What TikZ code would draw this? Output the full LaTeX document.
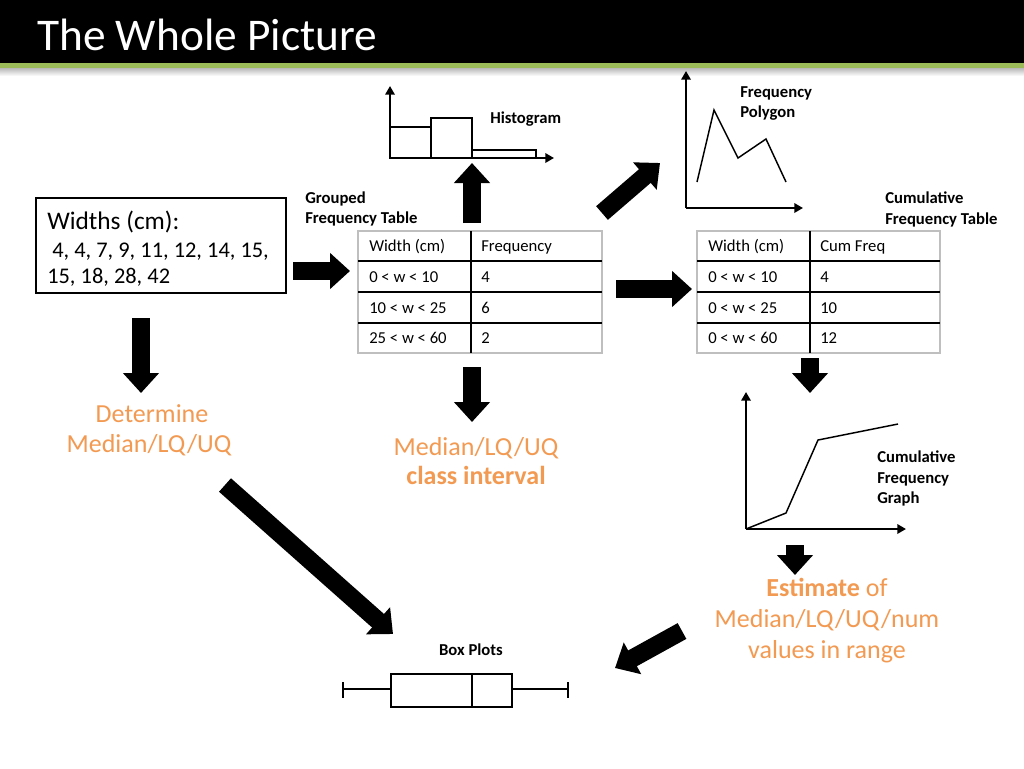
\documentclass[tikz,border=0pt]{standalone}
\usepackage{fontspec}
\setmainfont{Carlito}
\usetikzlibrary{arrows.meta}
\definecolor{accent}{HTML}{9BBB59}
\definecolor{orangetxt}{HTML}{F39A52}
\definecolor{tblgray}{HTML}{BFBFBF}
\tikzset{
  blockarrow/.style={line width=13.5pt, -{Triangle[length=15pt,width=26.25pt]}},
  axisline/.style={line width=2.1pt, -{Triangle[length=6.5pt,width=7pt]}},
  barline/.style={line width=2pt},
  thinline/.style={line width=1.1pt, line join=miter},
  boxline/.style={line width=1.9pt},
  lbl/.style={font=\bfseries\fontsize{12.5}{15}\selectfont, anchor=base west, inner sep=0pt},
  tbl/.style={font=\fontsize{12.5}{15}\selectfont, anchor=base west, inner sep=0pt},
  orng/.style={font=\fontsize{19.5}{23}\selectfont, text=orangetxt, anchor=base, inner sep=0pt},
  tblframe/.style={draw=tblgray, line width=0.9pt, inner sep=0pt},
  tblrule/.style={line width=1.2pt},
}
\begin{document}
\begin{tikzpicture}[x=0.75pt,y=-0.75pt]
\useasboundingbox (0,0) rectangle (1024,768);
\fill[white] (0,0) rectangle (1024,768);
% title bar
\fill[black] (0,0) rectangle (1024,64);
\shade[top color=gray!55, bottom color=white] (0,68) rectangle (1024,76);
\fill[accent] (0,63) rectangle (1024,68);
\node[anchor=base west, text=white, font=\fontsize{34}{40}\selectfont, inner sep=0pt] (title) at (37,50) {The Whole Picture};

% widths box
\node[draw, line width=2pt, minimum width=187.5pt, minimum height=71.25pt, inner sep=0pt] (wbox) at (161,245.5) {};
\node[anchor=base west, inner sep=0pt, font=\fontsize{19}{23}\selectfont] (wt) at (47,229) {Widths (cm):};
\node[anchor=base west, inner sep=0pt, font=\fontsize{16.8}{20}\selectfont] (w1) at (47,257) {\ 4, 4, 7, 9, 11, 12, 14, 15,};
\node[anchor=base west, inner sep=0pt, font=\fontsize{16.8}{20}\selectfont] (w2) at (47,283) {15, 18, 28, 42};

% grouped frequency table
\node[lbl] (gftl1) at (305,203) {Grouped};
\node[lbl] (gftl2) at (305,223) {Frequency Table};
\node[tblframe, minimum width=183pt, minimum height=91.5pt] (gft) at (480,292) {};
\foreach \y in {261,292,323} \draw[tblrule] (358,\y) -- (602,\y);
\draw[tblrule] (471,231) -- (471,353);
\node[tbl] at (369,251.5) {Width (cm)};
\node[tbl] at (481,251.5) {Frequency};
\node[tbl] at (369,282) {0 < w < 10};
\node[tbl] at (481,282) {4};
\node[tbl] at (369,313) {10 < w < 25};
\node[tbl] at (481,313) {6};
\node[tbl] at (369,343.5) {25 < w < 60};
\node[tbl] at (481,343.5) {2};

% cumulative frequency table
\node[lbl] (cftl1) at (885,203) {Cumulative};
\node[lbl] (cftl2) at (885,224) {Frequency Table};
\node[tblframe, minimum width=182.25pt, minimum height=91.5pt] (cft) at (818.5,292) {};
\foreach \y in {261,292,323} \draw[tblrule] (697,\y) -- (940,\y);
\draw[tblrule] (810,231) -- (810,353);
\node[tbl] at (708,251.5) {Width (cm)};
\node[tbl] at (820,251.5) {Cum Freq};
\node[tbl] at (708,282) {0 < w < 10};
\node[tbl] at (820,282) {4};
\node[tbl] at (708,313) {0 < w < 25};
\node[tbl] at (820,313) {10};
\node[tbl] at (708,343.5) {0 < w < 60};
\node[tbl] at (820,343.5) {12};

% histogram
\coordinate (hO) at (390,158);
\draw[axisline] (hO) -- (390,86);
\draw[axisline] (hO) -- (554,158);
\draw[barline] (390,158) rectangle (431,127);
\draw[barline] (431,158) rectangle (472,118);
\draw[barline] (472,158) rectangle (536,150);
\node[lbl] (hist) at (490,123) {Histogram};

% frequency polygon
\coordinate (pO) at (686,208);
\draw[axisline] (pO) -- (686,71);
\draw[axisline] (pO) -- (803,208);
\draw[thinline] (697,182) -- (714,110) -- (738,158) -- (766,139) -- (786,182);
\node[lbl] (fp1) at (740,97) {Frequency};
\node[lbl] (fp2) at (740,117) {Polygon};

% cumulative frequency graph
\coordinate (cO) at (746,529);
\draw[axisline] (cO) -- (746,392);
\draw[axisline] (cO) -- (906,529);
\draw[thinline] (746,529) -- (786,513) -- (818,440) -- (898,424);
\node[lbl] (cg1) at (877,462) {Cumulative};
\node[lbl] (cg2) at (877,483) {Frequency};
\node[lbl] (cg3) at (877,503) {Graph};

% orange texts
\node[orng] (det1) at (152,422) {Determine};
\node[orng] (det2) at (149,452) {Median/LQ/UQ};
\node[orng] (ci1) at (476,455) {Median/LQ/UQ};
\node[orng] (ci2) at (476,484) {\bfseries class interval};
\node[orng] (es1) at (827,596) {\textbf{Estimate} of};
\node[orng] (es2) at (827,627) {Median/LQ/UQ/num};
\node[orng] (es3) at (827,658) {values in range};

% box plot
\node[lbl, anchor=base] (bp) at (471,655) {Box Plots};
\draw[boxline] (343,682) -- (343,698);
\draw[boxline] (568,682) -- (568,698);
\draw[boxline] (343,689) -- (391,689);
\draw[boxline] (512,689) -- (568,689);
\draw[boxline] (391,674) rectangle (512,707);
\draw[boxline] (472,674) -- (472,707);

% block arrows
\coordinate (a1s) at (293,271);  \coordinate (a1e) at (350,271);
\coordinate (a2s) at (141,318);  \coordinate (a2e) at (141,393);
\coordinate (a3s) at (472,223);  \coordinate (a3e) at (472,163);
\coordinate (a4s) at (602,213);  \coordinate (a4e) at (660,163);
\coordinate (a5s) at (616,289);  \coordinate (a5e) at (692,289);
\coordinate (a6s) at (472,367);  \coordinate (a6e) at (472,422);
\coordinate (a7s) at (810,358);  \coordinate (a7e) at (810,393);
\coordinate (a8s) at (795,545);  \coordinate (a8e) at (795,575);
\coordinate (a9s) at (225,485);  \coordinate (a9e) at (393,634);
\coordinate (a10s) at (682,631); \coordinate (a10e) at (615,668);
\foreach \i in {1,...,10} \draw[blockarrow] (a\i s) -- (a\i e);
\end{tikzpicture}
\end{document}
